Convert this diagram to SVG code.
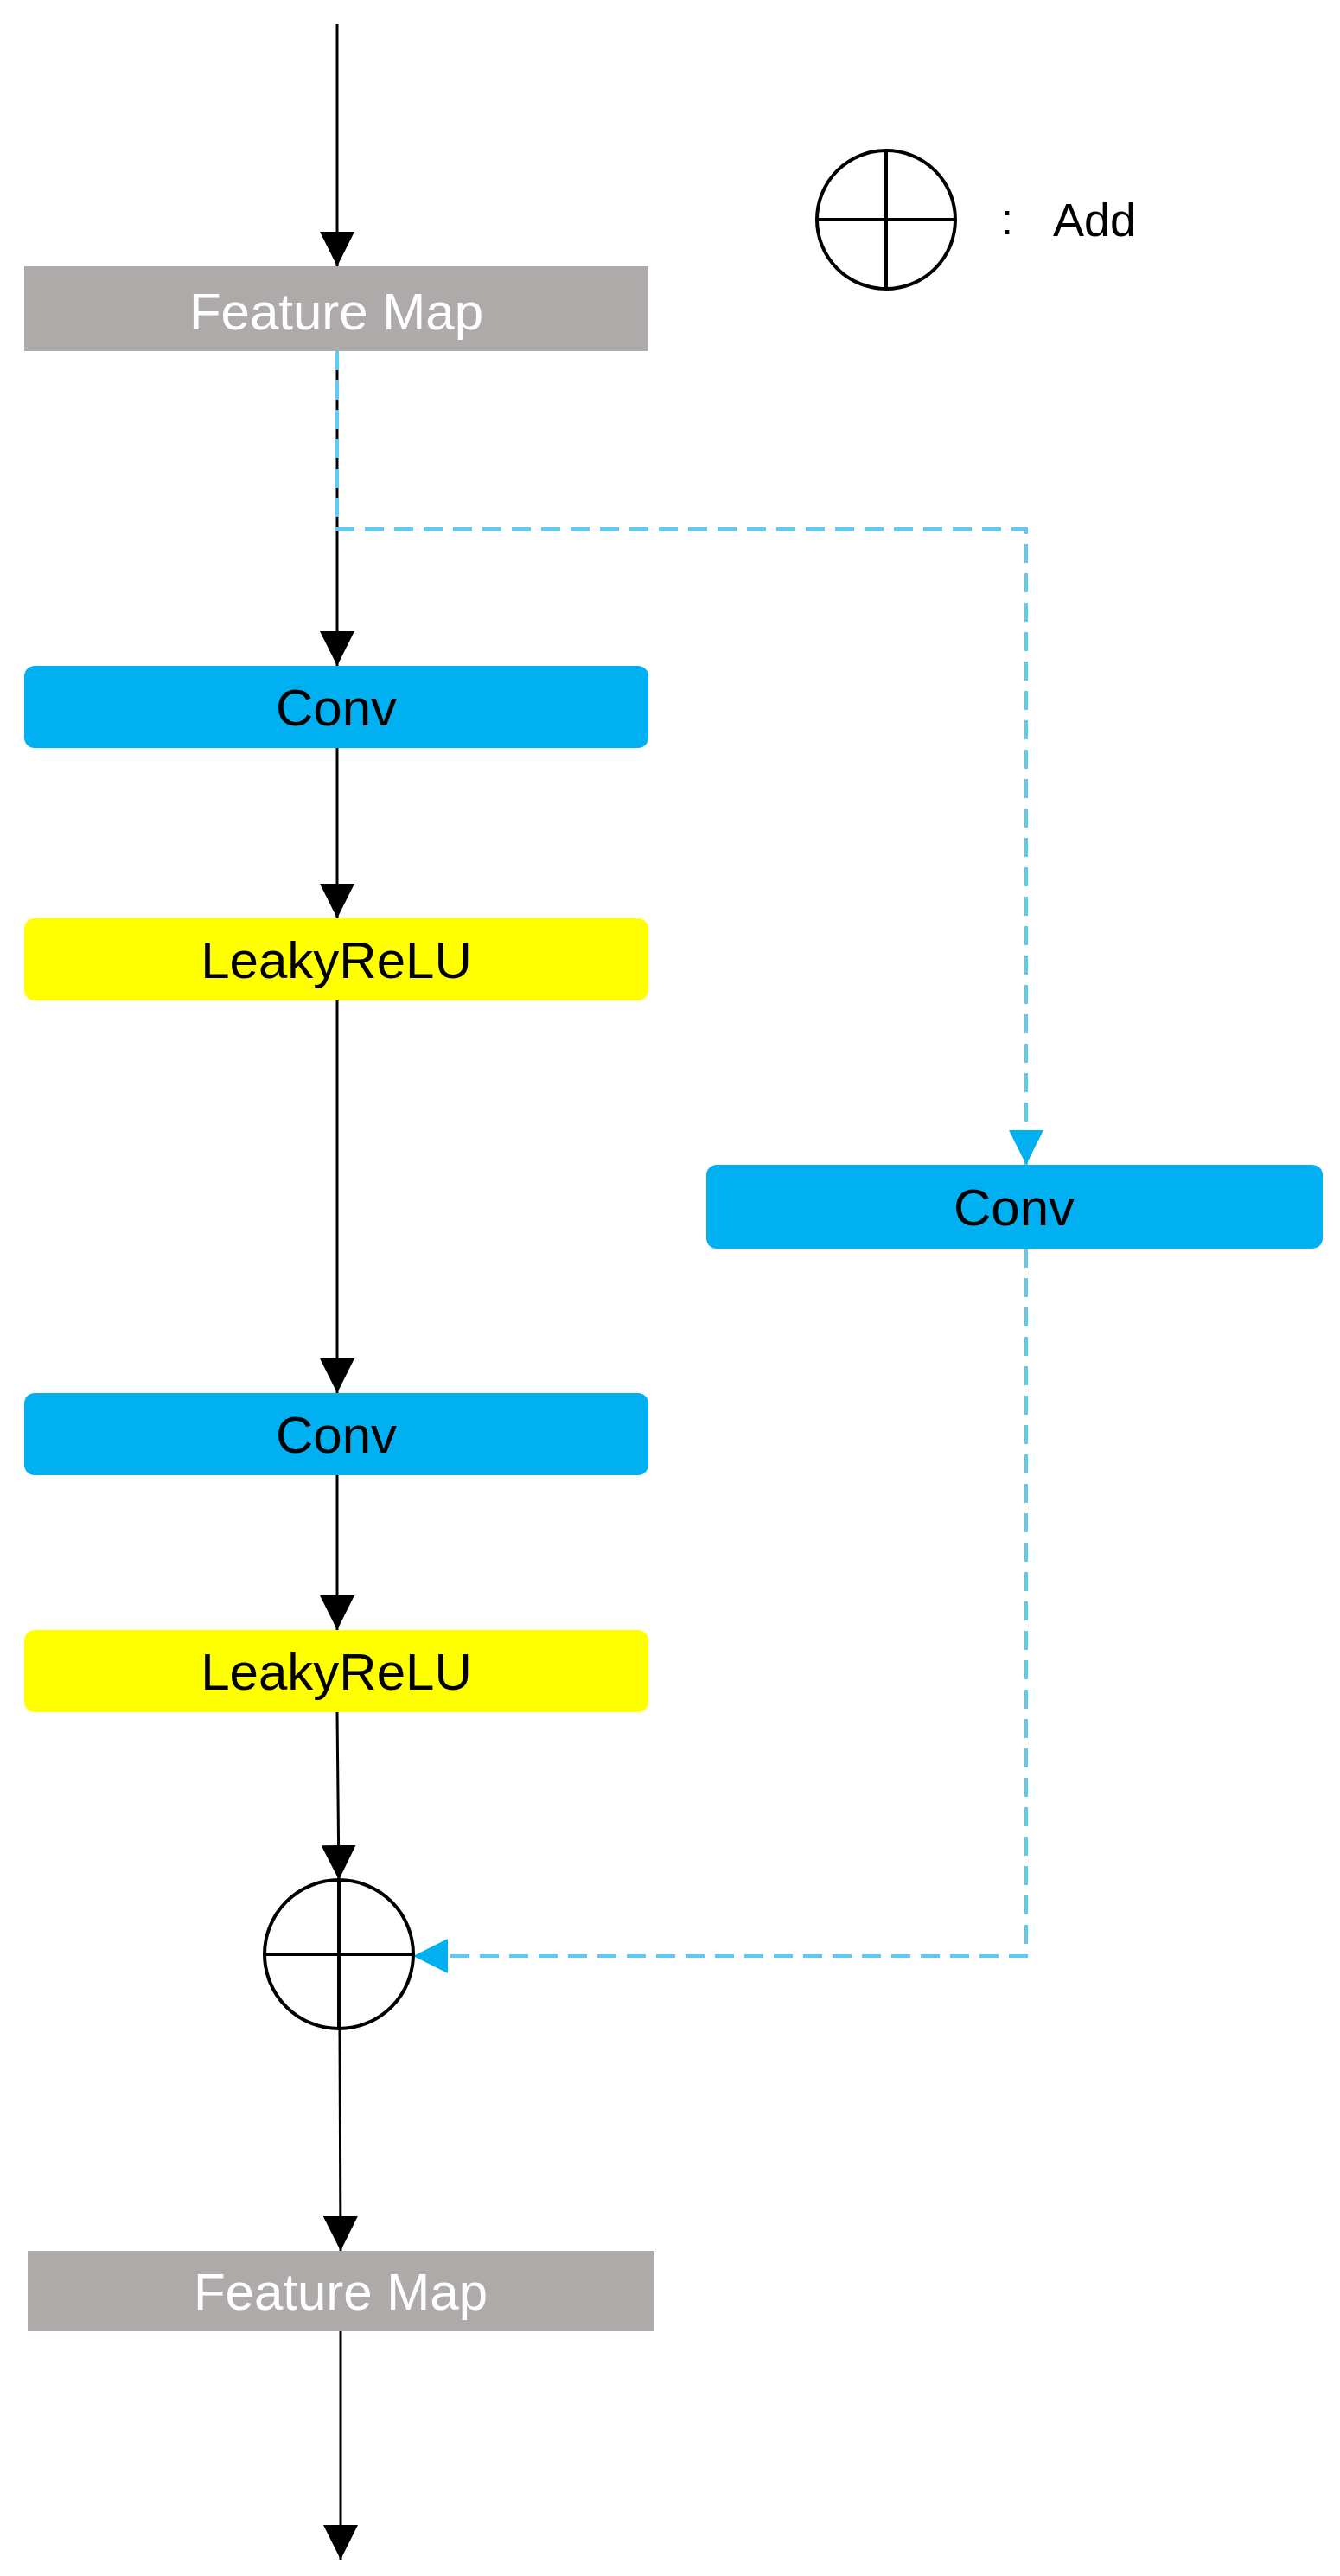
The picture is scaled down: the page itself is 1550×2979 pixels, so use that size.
<svg xmlns="http://www.w3.org/2000/svg" width="1550" height="2979" viewBox="0 0 1550 2979">
<style>
.t{font-family:"Liberation Sans","Noto Sans",sans-serif;font-size:60px;text-anchor:middle;dominant-baseline:central}
.fm{fill:#aeaaaa}.fmt{fill:#ffffff}
.conv{fill:#00b0f0}.lr{fill:#ffff00}
.k{stroke:#000;stroke-width:3;fill:none}
.d{stroke:#5ccbf3;stroke-width:4;stroke-dasharray:22 12;fill:none}
</style>
<defs>
<marker id="a" markerWidth="12" markerHeight="12" refX="10" refY="6" orient="auto" markerUnits="userSpaceOnUse" viewBox="0 0 12 12"><path d="M0,0 L12,6 L0,12 z" fill="#000" transform="scale(1)"/></marker>
<marker id="ab" markerWidth="40" markerHeight="40" refX="40" refY="20" orient="auto" markerUnits="userSpaceOnUse"><path d="M0,0 L40,20 L0,40 z" fill="#00b0f0"/></marker>
<marker id="ak" markerWidth="40" markerHeight="40" refX="40" refY="20" orient="auto" markerUnits="userSpaceOnUse"><path d="M0,0 L40,20 L0,40 z" fill="#000"/></marker>
</defs>
<g id="connectors">
<line class="k" x1="390" y1="28" x2="390" y2="308" marker-end="url(#ak)"/>
<line class="k" x1="390" y1="406" x2="390" y2="770" marker-end="url(#ak)"/>
<line class="k" x1="390" y1="865" x2="390" y2="1062" marker-end="url(#ak)"/>
<line class="k" x1="390" y1="1157" x2="390" y2="1611" marker-end="url(#ak)"/>
<line class="k" x1="390" y1="1706" x2="390" y2="1885" marker-end="url(#ak)"/>
<line class="k" x1="390" y1="1980" x2="392" y2="2174" marker-end="url(#ak)"/>
<line class="k" x1="393" y1="2346" x2="394" y2="2603" marker-end="url(#ak)"/>
<line class="k" x1="394" y1="2696" x2="394" y2="2960" marker-end="url(#ak)"/>
<path class="d" d="M390,406 V612 H1187 V1347" marker-end="url(#ab)"/>
<path class="d" d="M1187,1444 V2262 H478" marker-end="url(#ab)"/>
</g>
<g id="fm1"><rect class="fm" x="28" y="308" width="722" height="98"/><text class="t fmt" x="389" y="360">Feature Map</text></g>
<g id="conv1"><rect class="conv" x="28" y="770" width="722" height="95" rx="12"/><text class="t" x="389" y="818">Conv</text></g>
<g id="lr1"><rect class="lr" x="28" y="1062" width="722" height="95" rx="12"/><text class="t" x="389" y="1110">LeakyReLU</text></g>
<g id="conv3"><rect class="conv" x="817" y="1347" width="713" height="97" rx="12"/><text class="t" x="1173" y="1396">Conv</text></g>
<g id="conv2"><rect class="conv" x="28" y="1611" width="722" height="95" rx="12"/><text class="t" x="389" y="1659">Conv</text></g>
<g id="lr2"><rect class="lr" x="28" y="1885" width="722" height="95" rx="12"/><text class="t" x="389" y="1933">LeakyReLU</text></g>
<g id="add"><circle cx="392" cy="2260" r="86" fill="#fff" stroke="#000" stroke-width="4"/><path d="M306,2260 H478 M392,2174 V2346" stroke="#000" stroke-width="4"/></g>
<g id="fm2"><rect class="fm" x="32" y="2603" width="725" height="93"/><text class="t fmt" x="394" y="2650">Feature Map</text></g>
<g id="legend"><circle cx="1025" cy="254" r="80" fill="none" stroke="#000" stroke-width="4"/><path d="M945,254 H1105 M1025,174 V334" stroke="#000" stroke-width="4"/>
<text x="1158" y="254" font-family="Liberation Sans,sans-serif" font-size="50" dominant-baseline="central">:</text>
<text x="1218" y="254" font-family="Liberation Sans,sans-serif" font-size="54" dominant-baseline="central">Add</text></g>
</svg>
